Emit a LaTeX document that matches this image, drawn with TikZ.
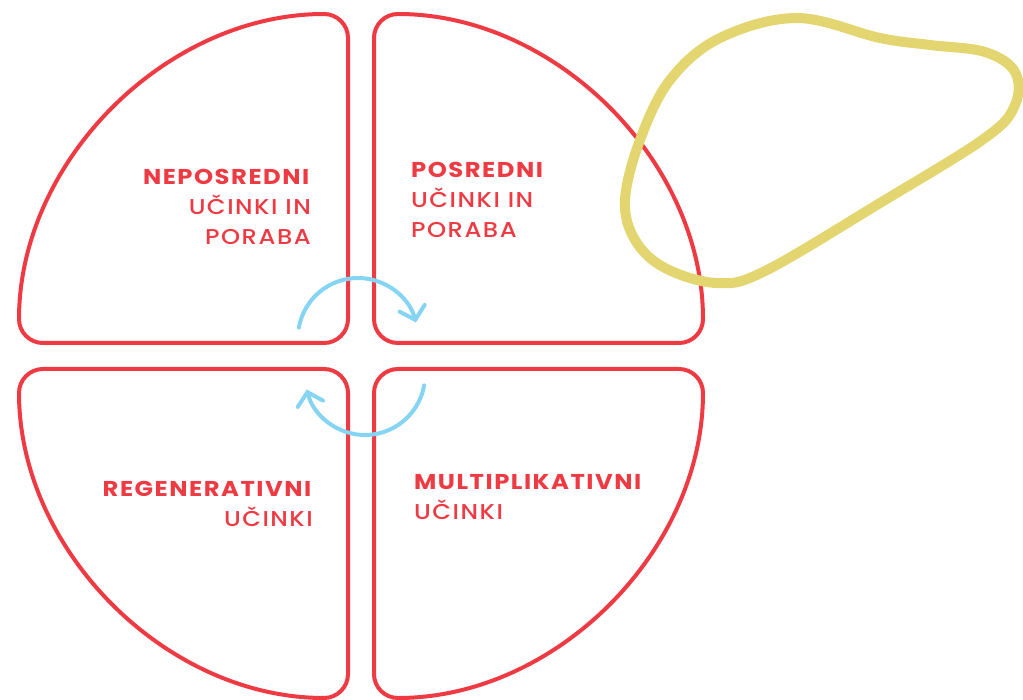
\documentclass[tikz,border=0pt]{standalone}
\usepackage{fontspec}
\setmainfont{Poppins}[UprightFont=* Medium, BoldFont=* Bold, FakeStretch=1.13, LetterSpace=7]
\usetikzlibrary{arrows.meta}
\definecolor{qred}{RGB}{238,58,67}
\definecolor{qblue}{RGB}{134,212,244}
\definecolor{qyellow}{RGB}{227,213,111}
\begin{document}
\begin{tikzpicture}[x=1pt,y=1pt,
  quad/.style={draw=qred, line width=4pt, rounded corners=24pt},
  cyc/.style={draw=qblue, line width=4pt, line cap=round,
    -{Straight Barb[length=12pt,width=26pt,line cap=round]}},
  lbl/.style={text=qred, inner sep=0pt, font={\fontsize{21.5}{30}\selectfont}},
  blob/.style={draw=qyellow, line width=10pt}]
\useasboundingbox (0,0) rectangle (1023,-700);
% quadrants
\draw[quad] (348,-343) -- (19,-343) arc[start angle=180,end angle=90,radius=329] -- cycle;
\draw[quad] (374,-343) -- (703,-343) arc[start angle=0,end angle=90,radius=329] -- cycle;
\draw[quad] (348,-369) -- (19,-369) arc[start angle=180,end angle=270,radius=329] -- cycle;
\draw[quad] (374,-369) -- (703,-369) arc[start angle=0,end angle=-90,radius=329] -- cycle;
% cycle arrows
\coordinate (topstart) at (298.9,-327.6);
\coordinate (botstart) at (424.1,-385.4);
\draw[cyc] (topstart) arc[start angle=170,end angle=15,radius=60];
\draw[cyc] (botstart) arc[start angle=-10,end angle=-166,radius=60];
% labels
\node[lbl, anchor=north east, align=right] (nep) at (311,-169) {\textbf{NEPOSREDNI}\\UČINKI IN\\PORABA};
\node[lbl, anchor=north west, align=left] (pos) at (411,-162) {\textbf{POSREDNI}\\UČINKI IN\\PORABA};
\node[lbl, anchor=north east, align=right] (reg) at (313,-481) {\textbf{REGENERATIVNI}\\UČINKI};
\node[lbl, anchor=north west, align=left] (mul) at (414,-474) {\textbf{MULTIPLIKATIVNI}\\UČINKI};
% yellow blob
\draw[blob] plot[smooth cycle, tension=0.6] coordinates {
 (625,-200) (635,-240) (665,-268) (717,-283) (765,-271) (880,-203) (985,-138)
 (1015,-105) (1015,-72) (985,-52) (930,-45) (880,-38) (797,-18) (720,-38) (670,-80) (640,-140)};
\end{tikzpicture}
\end{document}
